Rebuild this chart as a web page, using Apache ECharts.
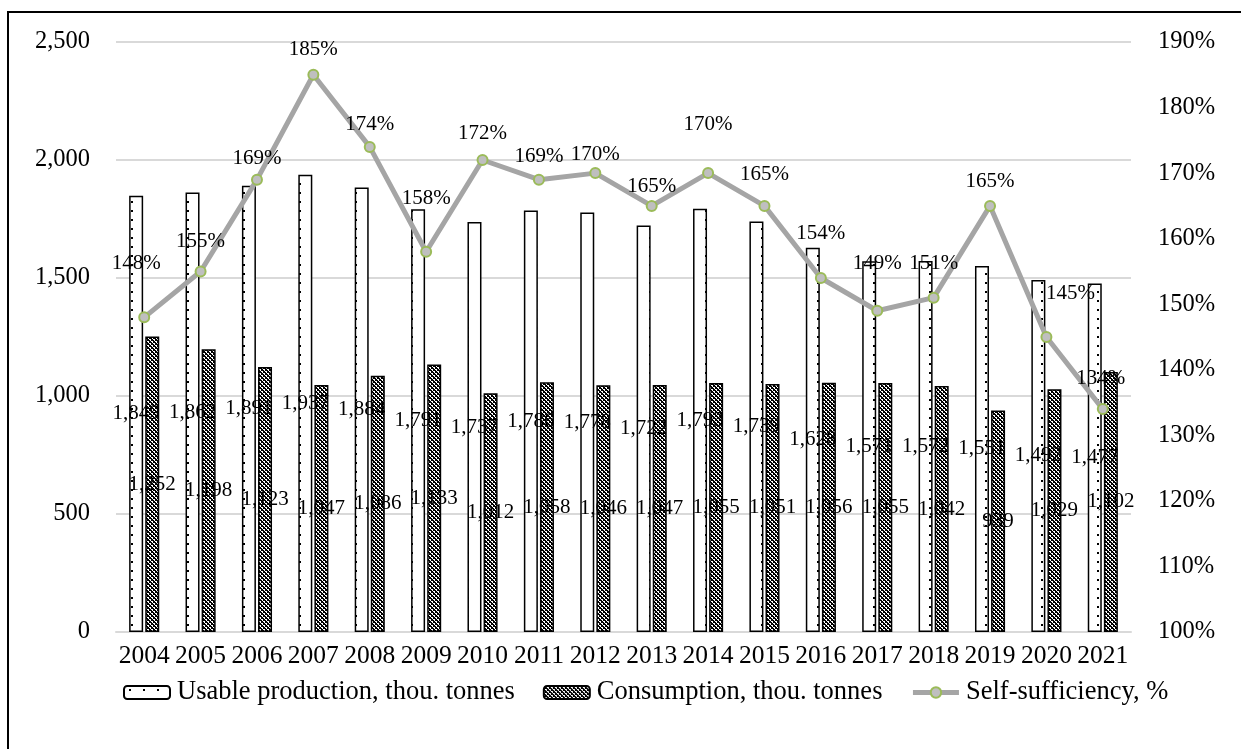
<!DOCTYPE html>
<html>
<head>
<meta charset="utf-8">
<script src="https://cdn.jsdelivr.net/npm/echarts@6/dist/echarts.min.js"></script>
<style>
  html, body { margin: 0; padding: 0; background: #fff; }
  #chart { width: 1241px; height: 749px; }
</style>
</head>
<body>
<div id="chart"></div>
<script>
// Data: usable production, consumption and self-sufficiency by year
const years = ['2004','2005','2006','2007','2008','2009','2010','2011','2012','2013','2014','2015','2016','2017','2018','2019','2020','2021'];
const production = [1849, 1862, 1891, 1937, 1884, 1791, 1737, 1786, 1778, 1722, 1793, 1739, 1628, 1571, 1572, 1551, 1492, 1477];
const consumption = [1252, 1198, 1123, 1047, 1086, 1133, 1012, 1058, 1046, 1047, 1055, 1051, 1056, 1055, 1042, 939, 1029, 1102];
const selfSufficiency = [148, 155, 169, 185, 174, 158, 172, 169, 170, 165, 170, 165, 154, 149, 151, 165, 145, 134];
const leftTicks = [0, 500, 1000, 1500, 2000, 2500];
const rightTicks = [100, 110, 120, 130, 140, 150, 160, 170, 180, 190];

// Label placement tweaks for the percentage labels (distance above point, x nudge)
const pctLabelDistance = [37, 13, 5, 9, 6, 37, 10, 7, 2, 3, 32, 15, 28, 31, 18, 8, 27, 14];
const pctLabelShiftX = [-8, 0, 0, 0, 0, 0, 0, 0, 0, 0, 0, 0, 0, 0, 0, 0, 24, -2];

const FONT = "'Liberation Serif', 'Times New Roman', serif";

// Dotted fill for production bars
function dotPattern() {
  const c = document.createElement('canvas');
  c.width = 14; c.height = 9;
  const g = c.getContext('2d');
  g.fillStyle = '#fff'; g.fillRect(0, 0, 14, 9);
  g.fillStyle = '#000'; g.fillRect(5, 3, 2, 2);
  return c;
}
// Dense checkered-diagonal fill for consumption bars
function checkPattern() {
  const n = 4;
  const c = document.createElement('canvas');
  c.width = n; c.height = n;
  const g = c.getContext('2d');
  g.fillStyle = '#000'; g.fillRect(0, 0, n, n);
  g.fillStyle = '#fff';
  for (let y = 0; y < n; y++) {
    for (let x = 0; x < n; x++) {
      const d = ((x - y) % n + n) % n;
      if (d === 2 || (d === 3 && x % 2 === 0)) g.fillRect(x, y, 1, 1);
    }
  }
  return c;
}

const fmtThousands = v => String(v).replace(/\B(?=(\d{3})+(?!\d))/g, ',');

const lineData = selfSufficiency.map((v, i) => ({
  value: v,
  label: { distance: pctLabelDistance[i], offset: [pctLabelShiftX[i], 0] }
}));

const chart = echarts.init(document.getElementById('chart'), null, { renderer: 'canvas' });
chart.setOption({
  animation: false,
  backgroundColor: '#fff',
  textStyle: { fontFamily: FONT },
  graphic: [{
    type: 'rect', z: -10, silent: true,
    shape: { x: 8, y: 12, width: 1400, height: 900 },
    style: { fill: 'none', stroke: '#000', lineWidth: 2 }
  }],
  grid: { left: 116, right: 110, top: 42, bottom: 117, containLabel: false },
  legend: {
    bottom: 38, left: 118,
    itemWidth: 46, itemHeight: 13, itemGap: 28,
    textStyle: { fontFamily: FONT, fontSize: 26.5, color: '#000', padding: [0, 0, 0, 2] },
    data: [
      { name: 'Usable production, thou. tonnes' },
      { name: 'Consumption, thou. tonnes' },
      { name: 'Self-sufficiency, %', lineStyle: { width: 5, color: '#A5A5A5' } }
    ]
  },
  xAxis: {
    type: 'category', data: years,
    axisLine: { lineStyle: { color: '#D9D9D9', width: 2 } },
    axisTick: { show: false },
    axisLabel: { interval: 0, color: '#000', fontFamily: FONT, fontSize: 25.5, margin: 11 }
  },
  yAxis: [{
    type: 'value', min: leftTicks[0], max: leftTicks[leftTicks.length - 1], interval: 500,
    axisLine: { show: false }, axisTick: { show: false },
    splitLine: { lineStyle: { color: '#D9D9D9', width: 2 } },
    axisLabel: { color: '#000', fontFamily: FONT, fontSize: 24.5, margin: 26, formatter: v => fmtThousands(v) }
  }, {
    type: 'value', min: rightTicks[0], max: rightTicks[rightTicks.length - 1], interval: 10,
    axisLine: { show: false }, axisTick: { show: false }, splitLine: { show: false },
    axisLabel: { color: '#000', fontFamily: FONT, fontSize: 24.5, margin: 27, formatter: '{value}%' }
  }],
  series: [{
    name: 'Usable production, thou. tonnes', type: 'bar', yAxisIndex: 0,
    data: production, barWidth: 14, barGap: '15%',
    itemStyle: { color: { image: dotPattern(), repeat: 'repeat' }, borderColor: '#000', borderWidth: 1.5 },
    label: { show: true, position: 'inside', color: '#000', fontFamily: FONT, fontSize: 21, textBorderWidth: 0,
             formatter: p => fmtThousands(p.value) }
  }, {
    name: 'Consumption, thou. tonnes', type: 'bar', yAxisIndex: 0,
    data: consumption, barWidth: 14,
    itemStyle: { color: { image: checkPattern(), repeat: 'repeat' }, borderColor: '#000', borderWidth: 1.5 },
    label: { show: true, position: 'inside', color: '#000', fontFamily: FONT, fontSize: 21, textBorderWidth: 0,
             formatter: p => fmtThousands(p.value) }
  }, {
    name: 'Self-sufficiency, %', type: 'line', yAxisIndex: 1,
    data: lineData, z: 5,
    symbol: 'circle', symbolSize: 10,
    lineStyle: { color: '#A5A5A5', width: 5 },
    itemStyle: { color: '#BFBFBF', borderColor: '#9BBB59', borderWidth: 2 },
    label: { show: true, position: 'top', color: '#000', fontFamily: FONT, fontSize: 21, formatter: '{c}%' }
  }]
});
</script>
</body>
</html>
